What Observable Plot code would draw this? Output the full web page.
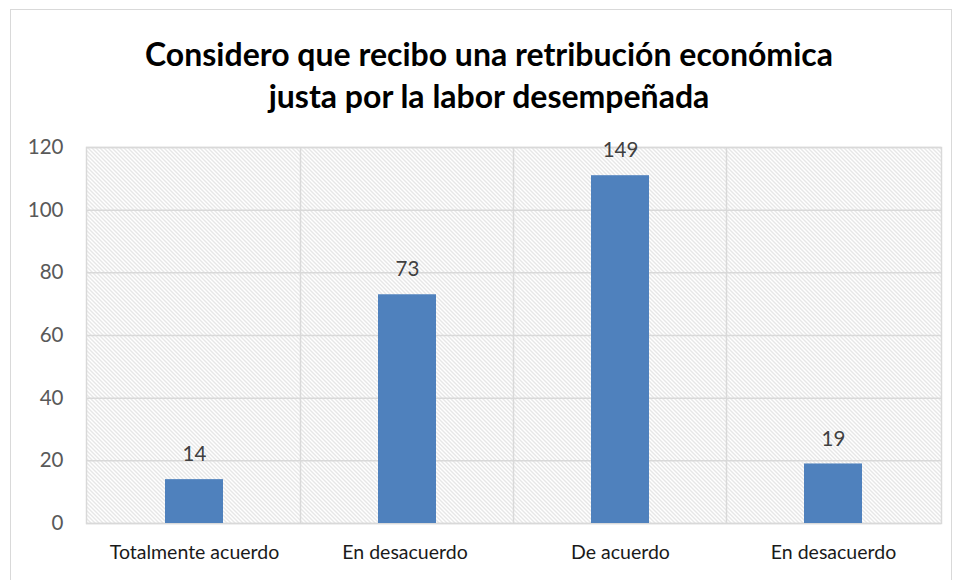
<!DOCTYPE html>
<html>
<head>
<meta charset="utf-8">
<script src="https://cdn.jsdelivr.net/npm/d3@7"></script>
<script src="https://cdn.jsdelivr.net/npm/@observablehq/plot@0.6"></script>
<style>
  html, body { margin: 0; padding: 0; background: #fff; width: 956px; height: 580px; overflow: hidden; }
  #frame { position: absolute; left: 10px; top: 9px; width: 942px; height: 600px; border: 1px solid #d9d9d9; box-sizing: border-box; }
  #title { position: absolute; left: 0; top: 33px; width: 978px; text-align: center; font-family: Lato, "Open Sans", sans-serif; font-weight: 700; font-size: 32px; line-height: 42px; color: #000; }
  #chart { position: absolute; left: 0; top: 120px; }
</style>
</head>
<body>
<div id="frame"></div>
<div id="title">Considero que recibo una retribución económica<br>justa por la labor desempeñada</div>
<div id="chart"></div>
<script>
const categories = ["Totalmente acuerdo", "En desacuerdo ", "De acuerdo", "En desacuerdo"];
const barHeights = [14, 73, 111, 19];
const valueLabels = ["14", "73", "149", "19"];
const yTicks = [0, 20, 40, 60, 80, 100, 120];

const data = categories.map((c, i) => ({cat: c, v: barHeights[i], label: valueLabels[i]}));

const defs = () => {
  const d = d3.create("svg:defs");
  const p = d.append("pattern")
    .attr("id", "hatch").attr("patternUnits", "userSpaceOnUse")
    .attr("width", 4).attr("height", 4);
  p.append("rect").attr("width", 4).attr("height", 4).attr("fill", "#ffffff");
  p.append("path")
    .attr("d", "M0,0L4,4M-1,3L1,5M3,-1L5,1")
    .attr("stroke", "#c9c9c9").attr("stroke-width", 0.9);
  return d.node();
};

const boundaries = categories.slice(1);

const plot = Plot.plot({
  width: 956,
  height: 460,
  marginLeft: 86,
  marginRight: 15,
  marginTop: 27,
  marginBottom: 57,
  style: { fontFamily: "Lato, 'Open Sans', sans-serif", background: "transparent" },
  x: { domain: categories, paddingInner: 0.73, paddingOuter: 0.365, label: null },
  y: { domain: [0, 120], label: null },
  marks: [
    defs,
    Plot.frame({ fill: "url(#hatch)", stroke: null }),
    Plot.ruleY(yTicks, { stroke: "#d9d9d9", strokeWidth: 1.5, strokeOpacity: 1 }),
    Plot.ruleX(boundaries, { x: d => d, dx: -107, stroke: "#d9d9d9", strokeWidth: 1.5 }),
    Plot.frame({ stroke: "#d9d9d9", strokeWidth: 1.5 }),
    Plot.barY(data, { x: "cat", y: "v", fill: "#4F81BD" }),
    Plot.text(data, { x: "cat", y: "v", text: "label", dy: -25, fontSize: 20.5, fill: "#404040" }),
    Plot.axisY(yTicks, { tickSize: 0, tickPadding: 23, fontSize: 20.5, fill: "#595959", label: null }),
    Plot.axisX({ tickSize: 0, tickPadding: 22, fontSize: 19.5, fill: "#1a1a1a", label: null })
  ]
});
document.getElementById("chart").appendChild(plot);
</script>
</body>
</html>
